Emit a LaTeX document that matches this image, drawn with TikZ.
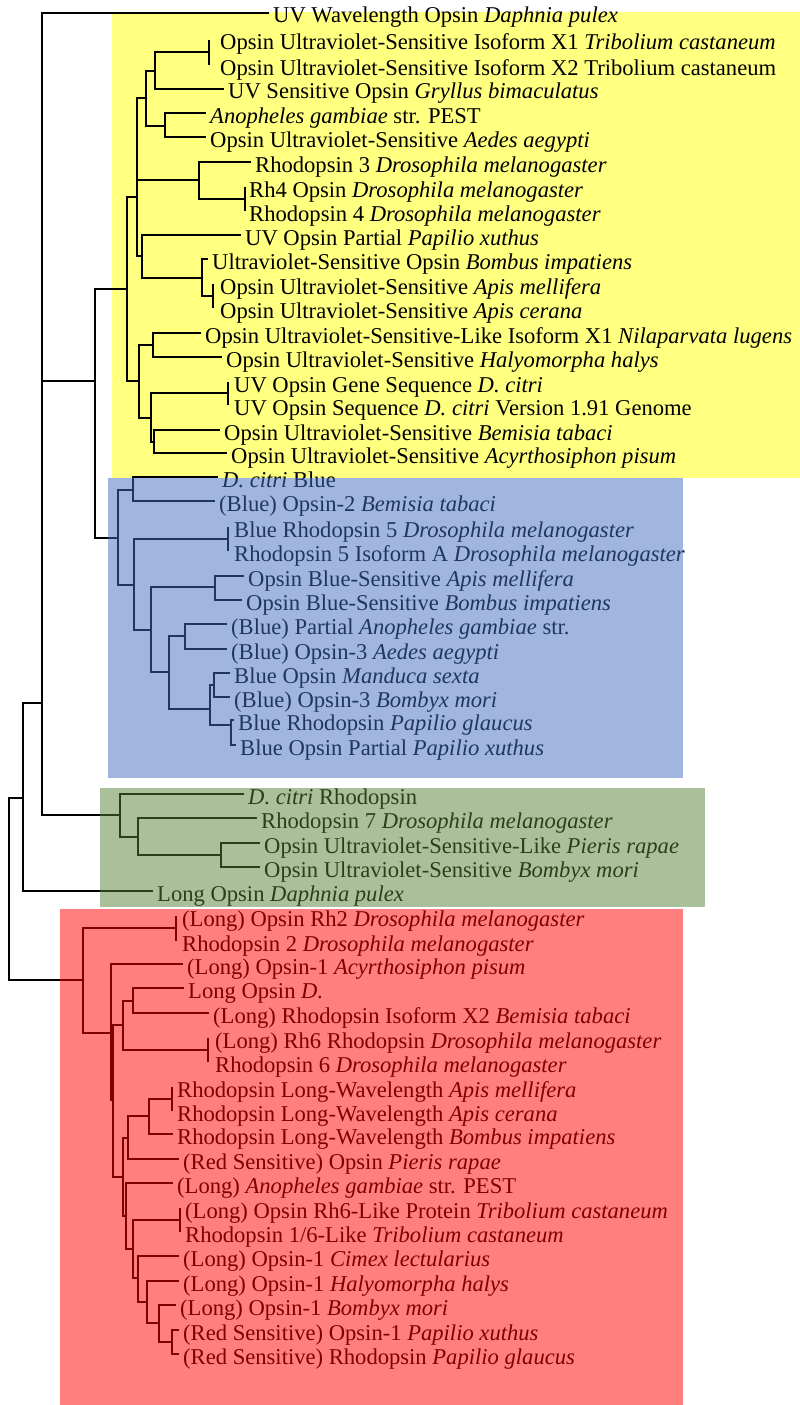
\documentclass[tikz,border=0pt]{standalone}
\usepackage{fontspec}
\setmainfont{Liberation Serif}
\definecolor{uvfill}{RGB}{255,255,128}
\definecolor{bluetint}{RGB}{65,109,193}
\definecolor{greentint}{RGB}{85,129,53}
\definecolor{redtint}{RGB}{255,0,0}

\begin{document}
\begin{tikzpicture}[x=1pt,y=-1pt,
  leaf/.style={anchor=west,inner xsep=4pt,inner ysep=0pt,text height=24pt,text depth=4pt,font=\fontsize{22.6}{24}\selectfont},
  branch/.style={line width=1.7pt},
  tint/.style={fill=#1,fill opacity=0.5}]
\useasboundingbox (0,0) rectangle (800,1405);
\fill[uvfill] (112,12) rectangle (800,478);

\node[leaf] (l1) at (269,13) {UV Wavelength Opsin \textit{Daphnia pulex}};
\node[leaf] (l2) at (216,40) {Opsin Ultraviolet-Sensitive Isoform X1 \textit{Tribolium castaneum}};
\node[leaf] (l3) at (216,65) {Opsin Ultraviolet-Sensitive Isoform X2 Tribolium castaneum};
\node[leaf] (l4) at (224,89) {UV Sensitive Opsin \textit{Gryllus bimaculatus}};
\node[leaf] (l5) at (206,113) {\textit{Anopheles gambiae} str. PEST};
\node[leaf] (l6) at (206,137) {Opsin Ultraviolet-Sensitive \textit{Aedes aegypti}};
\node[leaf] (l7) at (251,162) {Rhodopsin 3 \textit{Drosophila melanogaster}};
\node[leaf] (l8) at (245,187) {Rh4 Opsin \textit{Drosophila melanogaster}};
\node[leaf] (l9) at (245,211) {Rhodopsin 4 \textit{Drosophila melanogaster}};
\node[leaf] (l10) at (241,235) {UV Opsin Partial \textit{Papilio xuthus}};
\node[leaf] (l11) at (208,259) {Ultraviolet-Sensitive Opsin \textit{Bombus impatiens}};
\node[leaf] (l12) at (216,284) {Opsin Ultraviolet-Sensitive \textit{Apis mellifera}};
\node[leaf] (l13) at (216,308) {Opsin Ultraviolet-Sensitive \textit{Apis cerana}};
\node[leaf] (l14) at (201,333) {Opsin Ultraviolet-Sensitive-Like Isoform X1 \textit{Nilaparvata lugens}};
\node[leaf] (l15) at (222,357) {Opsin Ultraviolet-Sensitive \textit{Halyomorpha halys}};
\node[leaf] (l16) at (230,382) {UV Opsin Gene Sequence \textit{D. citri}};
\node[leaf] (l17) at (230,405) {UV Opsin Sequence \textit{D. citri} Version 1.91 Genome};
\node[leaf] (l18) at (220,430) {Opsin Ultraviolet-Sensitive \textit{Bemisia tabaci}};
\node[leaf] (l19) at (227,453) {Opsin Ultraviolet-Sensitive \textit{Acyrthosiphon pisum}};
\node[leaf] (l20) at (218,477) {\textit{D. citri} Blue};
\node[leaf] (l21) at (215,501) {(Blue) Opsin-2 \textit{Bemisia tabaci}};
\node[leaf] (l22) at (230,527) {Blue Rhodopsin 5 \textit{Drosophila melanogaster}};
\node[leaf] (l23) at (230,551) {Rhodopsin 5 Isoform A \textit{Drosophila melanogaster}};
\node[leaf] (l24) at (244,576) {Opsin Blue-Sensitive \textit{Apis mellifera}};
\node[leaf] (l25) at (242,600) {Opsin Blue-Sensitive \textit{Bombus impatiens}};
\node[leaf] (l26) at (227,624) {(Blue) Partial \textit{Anopheles gambiae} str.};
\node[leaf] (l27) at (227,649) {(Blue) Opsin-3 \textit{Aedes aegypti}};
\node[leaf] (l28) at (230,673) {Blue Opsin \textit{Manduca sexta}};
\node[leaf] (l29) at (230,697) {(Blue) Opsin-3 \textit{Bombyx mori}};
\node[leaf] (l30) at (234,720) {Blue Rhodopsin \textit{Papilio glaucus}};
\node[leaf] (l31) at (236,745) {Blue Opsin Partial \textit{Papilio xuthus}};
\node[leaf] (l32) at (244,794) {\textit{D. citri} Rhodopsin};
\node[leaf] (l33) at (257,818) {Rhodopsin 7 \textit{Drosophila melanogaster}};
\node[leaf] (l34) at (260,843) {Opsin Ultraviolet-Sensitive-Like \textit{Pieris rapae}};
\node[leaf] (l35) at (260,867) {Opsin Ultraviolet-Sensitive \textit{Bombyx mori}};
\node[leaf] (l36) at (153,891) {Long Opsin \textit{Daphnia pulex}};
\node[leaf] (l37) at (178,916) {(Long) Opsin Rh2 \textit{Drosophila melanogaster}};
\node[leaf] (l38) at (178,941) {Rhodopsin 2 \textit{Drosophila melanogaster}};
\node[leaf] (l39) at (183,964) {(Long) Opsin-1 \textit{Acyrthosiphon pisum}};
\node[leaf] (l40) at (184,988) {Long Opsin \textit{D.}};
\node[leaf] (l41) at (209,1013) {(Long) Rhodopsin Isoform X2 \textit{Bemisia tabaci}};
\node[leaf] (l42) at (211,1038) {(Long) Rh6 Rhodopsin \textit{Drosophila melanogaster}};
\node[leaf] (l43) at (211,1062) {Rhodopsin 6 \textit{Drosophila melanogaster}};
\node[leaf] (l44) at (173,1087) {Rhodopsin Long-Wavelength \textit{Apis mellifera}};
\node[leaf] (l45) at (173,1111) {Rhodopsin Long-Wavelength \textit{Apis cerana}};
\node[leaf] (l46) at (173,1134) {Rhodopsin Long-Wavelength \textit{Bombus impatiens}};
\node[leaf] (l47) at (179,1159) {(Red Sensitive) Opsin \textit{Pieris rapae}};
\node[leaf] (l48) at (173,1183) {(Long) \textit{Anopheles gambiae} str. PEST};
\node[leaf] (l49) at (181,1208) {(Long) Opsin Rh6-Like Protein \textit{Tribolium castaneum}};
\node[leaf] (l50) at (181,1232) {Rhodopsin 1/6-Like \textit{Tribolium castaneum}};
\node[leaf] (l51) at (179,1256) {(Long) Opsin-1 \textit{Cimex lectularius}};
\node[leaf] (l52) at (179,1281) {(Long) Opsin-1 \textit{Halyomorpha halys}};
\node[leaf] (l53) at (176,1305) {(Long) Opsin-1 \textit{Bombyx mori}};
\node[leaf] (l54) at (179,1330) {(Red Sensitive) Opsin-1 \textit{Papilio xuthus}};
\node[leaf] (l55) at (179,1354) {(Red Sensitive) Rhodopsin \textit{Papilio glaucus}};

\coordinate (r0) at (9,798);
\coordinate (a1) at (23,798);
\coordinate (a2) at (42,703);
\coordinate (yb) at (95,381);
\coordinate (y0) at (127,289);
\coordinate (y1) at (137,197);
\coordinate (y3) at (146,98);
\coordinate (y6) at (155,71);
\coordinate (t1) at (209,52);
\coordinate (y7) at (165,126);
\coordinate (y4) at (199,180);
\coordinate (t2) at (245,199);
\coordinate (y5) at (142,256);
\coordinate (y8) at (202,278);
\coordinate (t3) at (213,296);
\coordinate (y2) at (139,381);
\coordinate (y9) at (153,345);
\coordinate (y10) at (151,418);
\coordinate (t4) at (228,393);
\coordinate (y11) at (154,442);
\coordinate (b0) at (118,538);
\coordinate (b1) at (133,490);
\coordinate (b2) at (134,585);
\coordinate (t5) at (228,539);
\coordinate (b3) at (151,630);
\coordinate (b4) at (215,587);
\coordinate (b5) at (169,672);
\coordinate (b6) at (185,636);
\coordinate (b7) at (210,709);
\coordinate (b8) at (214,685);
\coordinate (b9) at (231,725);
\coordinate (g0) at (120,815);
\coordinate (g1) at (138,837);
\coordinate (g2) at (221,855);
\coordinate (r1) at (83,980);
\coordinate (t6) at (176,928);
\coordinate (r2) at (111,1033);
\coordinate (r2b) at (113,1100);
\coordinate (r3) at (123,1025);
\coordinate (r3a) at (133,1001);
\coordinate (t7) at (208,1050);
\coordinate (r5) at (123,1177);
\coordinate (r6) at (128,1138);
\coordinate (r6a) at (149,1116);
\coordinate (t8) at (172,1099);
\coordinate (r7) at (126,1216);
\coordinate (r8) at (133,1249);
\coordinate (t9) at (180,1220);
\coordinate (r9) at (138,1278);
\coordinate (r10) at (147,1302);
\coordinate (r11) at (159,1323);
\coordinate (r12) at (172,1342);

\draw[branch] (a1) -| (r0) |- (r1);
\draw[branch] (a2) -| (a1) |- (l36);
\draw[branch] (l1) -| (a2) |- (g0);
\draw[branch] (a2) |- (yb);
\draw[branch] (y0) -| (yb) |- (b0);
\draw[branch] (y1) -| (y0) |- (y2);
\draw[branch] (y3) -| (y1) |- (y5);
\draw[branch] (y1) |- (y4);
\draw[branch] (y6) -| (y3) |- (y7);
\draw[branch] (t1) -| (y6) |- (l4);
\draw[branch] (l5) -| (y7) |- (l6);
\draw[branch] (l7) -| (y4) |- (t2);
\draw[branch] (l10) -| (y5) |- (y8);
\draw[branch] (l11) -| (y8) |- (t3);
\draw[branch] (y9) -| (y2) |- (y10);
\draw[branch] (l14) -| (y9) |- (l15);
\draw[branch] (t4) -| (y10) |- (y11);
\draw[branch] (l18) -| (y11) |- (l19);
\draw[branch] (b1) -| (b0) |- (b2);
\draw[branch] (l20) -| (b1) |- (l21);
\draw[branch] (t5) -| (b2) |- (b3);
\draw[branch] (b4) -| (b3) |- (b5);
\draw[branch] (l24) -| (b4) |- (l25);
\draw[branch] (b6) -| (b5) |- (b7);
\draw[branch] (l26) -| (b6) |- (l27);
\draw[branch] (b8) -| (b7) |- (b9);
\draw[branch] (l28) -| (b8) |- (l29);
\draw[branch] (l30) -| (b9) |- (l31);
\draw[branch] (l32) -| (g0) |- (g1);
\draw[branch] (l33) -| (g1) |- (g2);
\draw[branch] (l34) -| (g2) |- (l35);
\draw[branch] (t6) -| (r1) |- (r2);
\draw[branch] (l39) -| (r2) |- (r2b);
\draw[branch] (r3) -| (r2b) |- (r5);
\draw[branch] (r3a) -| (r3) |- (t7);
\draw[branch] (l40) -| (r3a) |- (l41);
\draw[branch] (r6) -| (r5) |- (r7);
\draw[branch] (r6a) -| (r6) |- (l47);
\draw[branch] (t8) -| (r6a) |- (l46);
\draw[branch] (l48) -| (r7) |- (r8);
\draw[branch] (t9) -| (r8) |- (r9);
\draw[branch] (l51) -| (r9) |- (r10);
\draw[branch] (l52) -| (r10) |- (r11);
\draw[branch] (l53) -| (r11) |- (r12);
\draw[branch] (l54) -| (r12) |- (l55);

\draw[branch] (t1 |- l2.west) -- (t1 |- l3.west);
\draw[branch] (t2 |- l8.west) -- (t2 |- l9.west);
\draw[branch] (t3 |- l12.west) -- (t3 |- l13.west);
\draw[branch] (t4 |- l16.west) -- (t4 |- l17.west);
\draw[branch] (t5 |- l22.west) -- (t5 |- l23.west);
\draw[branch] (t6 |- l37.west) -- (t6 |- l38.west);
\draw[branch] (t7 |- l42.west) -- (t7 |- l43.west);
\draw[branch] (t8 |- l44.west) -- (t8 |- l45.west);
\draw[branch] (t9 |- l49.west) -- (t9 |- l50.west);

\fill[tint=bluetint] (108,478) rectangle (683,778);
\fill[tint=greentint] (100,788) rectangle (705,907);
\fill[tint=redtint] (60,909) rectangle (683,1405);
\end{tikzpicture}
\end{document}
